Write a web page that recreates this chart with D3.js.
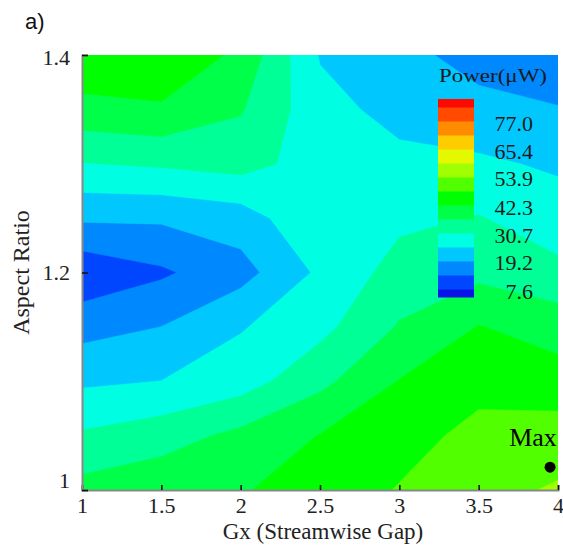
<!DOCTYPE html>
<html><head><meta charset="utf-8">
<script src="https://cdn.jsdelivr.net/npm/d3@7"></script>
<style>body{margin:0;background:#fff;} svg{display:block;}</style>
</head><body>
<svg id="chart" width="563" height="549"></svg>
<script>
// ---- data ----
const gxValues = [1, 1.5, 2, 2.5, 3, 3.5, 4];
const arValues = [1.0, 1.05, 1.1, 1.15, 1.2, 1.25, 1.3, 1.35, 1.4];
// Power (µW) per aspect-ratio row, along Gx
const powerAR100 = [38.5, 40.5, 42.0, 44.0, 48.5, 52.0, 54.5];
const powerAR105 = [31.5, 34.0, 38.0, 42.5, 45.5, 50.0, 51.0];
const powerAR110 = [24.0, 25.0, 28.0, 35.0, 42.5, 46.0, 44.5];
const powerAR115 = [17.0, 19.2, 24.5, 29.0, 37.0, 42.5, 40.0];
const powerAR120 = [9.0, 12.5, 17.0, 26.0, 33.0, 35.0, 32.0];
const powerAR125 = [20.0, 20.0, 22.0, 30.0, 29.5, 31.0, 28.0];
const powerAR130 = [30.5, 31.5, 33.0, 28.0, 26.5, 26.0, 24.0];
const powerAR135 = [40.3, 41.5, 37.0, 27.0, 23.0, 20.5, 19.5];
const powerAR140 = [47.0, 47.0, 41.0, 24.5, 20.5, 17.5, 15.0];
const powerRows = [powerAR100, powerAR105, powerAR110, powerAR115, powerAR120,
                   powerAR125, powerAR130, powerAR135, powerAR140];

const levels = [7.6, 13.38, 19.17, 24.95, 30.73, 36.52, 42.3, 48.08, 53.87, 59.65, 65.43, 71.22, 77.0, 82.78];
const bandColors = ["#0a14e6", "#0046ff", "#0088ff", "#00c8ff", "#00ffe2", "#00ff96", "#00ff48",
                    "#00ff00", "#52ff00", "#a0ff00", "#e4f800", "#ffcc00", "#ff8c00", "#ff4a00", "#ff0a00"];
const legendLabels = [7.6, 19.2, 30.7, 42.3, 53.9, 65.4, 77.0];
const legendRange = [4.3, 86.1];
const xTickValues = [1, 1.5, 2, 2.5, 3, 3.5, 4];
const xMinorTicks = d3.range(10, 41).map(d => d / 10);
const yTickValues = [1, 1.2, 1.4];
const yMinorTicks = d3.range(0, 9).map(d => 1 + d * 0.05);
const maxPoint = {gx: 3.95, ar: 1.021};

// ---- layout ----
const svg = d3.select("#chart");
const pL = 82, pR = 558, pT = 55, pB = 490;
const x = d3.scaleLinear().domain([1, 4]).range([pL, pR]);
const y = d3.scaleLinear().domain([1, 1.4]).range([pB, pT]);
const serif = "'Liberation Serif','Times New Roman',serif";

svg.append("defs").append("clipPath").attr("id", "plotClip")
  .append("rect").attr("x", pL).attr("y", pT).attr("width", pR - pL).attr("height", pB - pT);

const nx = gxValues.length, ny = arValues.length;
const values = [];
powerRows.forEach(row => row.forEach(v => values.push(v)));
const stepX = gxValues[1] - gxValues[0], stepY = arValues[1] - arValues[0];
const contours = d3.contours().size([nx, ny]).thresholds(levels)(values);
const proj = d3.geoTransform({
  point: function(gx, gy) {
    this.stream.point(x(gxValues[0] + (gx - 0.5) * stepX), y(arValues[0] + (gy - 0.5) * stepY));
  }
});
const path = d3.geoPath(proj);

const plot = svg.append("g").attr("clip-path", "url(#plotClip)");
plot.append("rect").attr("x", pL).attr("y", pT).attr("width", pR - pL).attr("height", pB - pT)
  .attr("fill", bandColors[0]);
plot.selectAll("path.band").data(contours).join("path")
  .attr("class", "band")
  .attr("d", path)
  .attr("fill", (d, i) => bandColors[i + 1])
  .attr("stroke", (d, i) => bandColors[i + 1])
  .attr("stroke-width", 0.6);

// ---- axes ----
const axisColor = "#888";
const gxAxis = svg.append("g").attr("transform", `translate(0,${pB})`);
gxAxis.call(d3.axisBottom(x).tickValues(xMinorTicks).tickSize(-3).tickFormat(""));
gxAxis.call(d3.axisBottom(x).tickValues(xTickValues).tickSize(-5).tickPadding(7).tickFormat(d3.format("")));
gxAxis.selectAll(".domain").attr("stroke", axisColor).attr("stroke-width", 2);
gxAxis.selectAll(".tick line").attr("stroke", "#111").attr("stroke-width", 1.6);
gxAxis.selectAll("text").attr("font-family", serif).attr("font-size", 22).attr("fill", "#222");

const gyAxis = svg.append("g").attr("transform", `translate(${pL},0)`);
gyAxis.call(d3.axisLeft(y).tickValues(yMinorTicks).tickSize(-5).tickFormat(""));
gyAxis.call(d3.axisLeft(y).tickValues(yTickValues).tickSize(-6).tickPadding(12).tickFormat(d3.format("")));
gyAxis.selectAll(".domain").attr("stroke", axisColor).attr("stroke-width", 2);
gyAxis.selectAll(".tick line").attr("stroke", "#111").attr("stroke-width", 1.6);
gyAxis.selectAll("text").attr("font-family", serif).attr("font-size", 22).attr("fill", "#222")
  .attr("dy", d => d === 1 ? "-0.1em" : (d === 1.4 ? "0.45em" : "0.32em"));

svg.append("text").attr("x", 0).attr("y", 0)
  .attr("transform", `translate(21,${(pT + pB) / 2}) rotate(-90)`)
  .attr("text-anchor", "middle").attr("dominant-baseline", "central")
  .attr("font-family", serif).attr("font-size", 24).attr("fill", "#222")
  .text("Aspect Ratio");
svg.append("text").attr("x", (pL + pR) / 2 + 3).attr("y", 539)
  .attr("text-anchor", "middle")
  .attr("font-family", serif).attr("font-size", 23).attr("fill", "#222")
  .text("Gx (Streamwise Gap)");

svg.append("text").attr("x", 25).attr("y", 29)
  .attr("font-family", "'Liberation Sans',Arial,sans-serif").attr("font-size", 22).attr("fill", "#111")
  .text("a)");

// ---- legend ----
const ly = d3.scaleLinear().domain([levels[0], levels[12]]).range([289, 121]);
const legX = 438, legW = 36;
const bandEdges = [legendRange[0], ...levels, legendRange[1]];
const leg = svg.append("g");
leg.selectAll("rect").data(bandColors).join("rect")
  .attr("x", legX).attr("width", legW)
  .attr("y", (d, i) => ly(bandEdges[i + 1]))
  .attr("height", (d, i) => ly(bandEdges[i]) - ly(bandEdges[i + 1]) + 0.5)
  .attr("fill", d => d);
leg.selectAll("text.lab").data(legendLabels).join("text")
  .attr("class", "lab")
  .attr("x", 533).attr("y", d => ly(d) + 2)
  .attr("text-anchor", "end").attr("dominant-baseline", "central")
  .attr("font-family", serif).attr("font-size", 22).attr("fill", "#1a1a1a")
  .text(d => d.toFixed(1));
leg.append("text").attr("x", 439).attr("y", 82)
  .attr("font-family", serif).attr("font-size", 19).attr("fill", "#1a1a1a")
  .attr("textLength", 108).attr("lengthAdjust", "spacingAndGlyphs")
  .text("Power(\u03bcW)");

// ---- max marker ----
svg.append("circle").attr("cx", x(maxPoint.gx)).attr("cy", y(maxPoint.ar)).attr("r", 5.5).attr("fill", "#000");
svg.append("text").attr("x", 533).attr("y", 446)
  .attr("text-anchor", "middle")
  .attr("font-family", serif).attr("font-size", 26).attr("fill", "#000")
  .text("Max");
</script>
</body></html>
